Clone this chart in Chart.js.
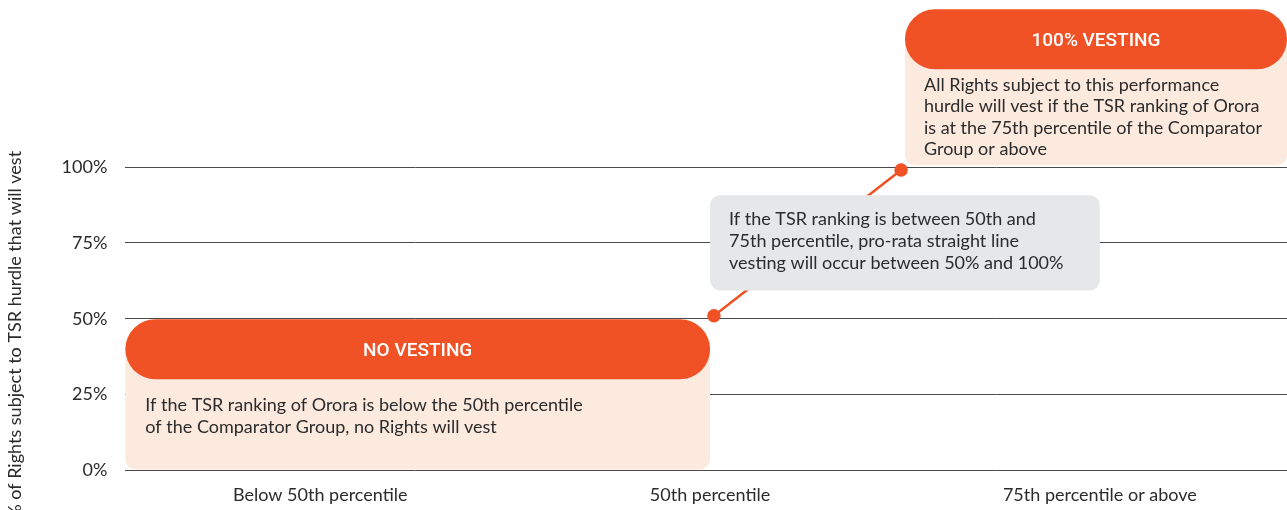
<!DOCTYPE html>
<html>
<head>
<meta charset="utf-8">
<script src="https://cdn.jsdelivr.net/npm/chart.js@4"></script>
<style>
html,body{margin:0;padding:0;background:#fff;}
#wrap{width:1287px;height:510px;}
</style>
</head>
<body>
<div id="wrap"><canvas id="c" width="1287" height="510"></canvas></div>
<script>
const categories = ["Below 50th percentile", "50th percentile", "75th percentile or above"];
const categoryPositions = [0.5, 1.5, 2.5];
const lineX = [1.51, 1.99];
const lineY = [51, 99];
const yTicks = [0, 25, 50, 75, 100];
const yTitle = "% of Rights subject to TSR hurdle that will vest";

const noVestTitle = "NO VESTING";
const noVestText = ["If the TSR ranking of Orora is below the 50th percentile", "of the Comparator Group, no Rights will vest"];
const fullVestTitle = "100% VESTING";
const fullVestText = ["All Rights subject to this performance", "hurdle will vest if the TSR ranking of Orora", "is at the 75th percentile of the Comparator", "Group or above"];
const midText = ["If the TSR ranking is between 50th and", "75th percentile, pro-rata straight line", "vesting will occur between 50% and 100%"];

const ORANGE = '#F05125';
const PEACH = '#FCEADF';
const GREY = '#E6E7E8';
const TXT = '#2b2b2b';
const BODY_FONT = '18px Lato';
const HEAD_FONT = '500 19px Roboto';

function rr(ctx, x, y, w, h, r) {
  const rad = typeof r === 'number' ? {tl:r,tr:r,br:r,bl:r} : r;
  ctx.beginPath();
  ctx.moveTo(x + rad.tl, y);
  ctx.lineTo(x + w - rad.tr, y);
  ctx.arcTo(x + w, y, x + w, y + rad.tr, rad.tr);
  ctx.lineTo(x + w, y + h - rad.br);
  ctx.arcTo(x + w, y + h, x + w - rad.br, y + h, rad.br);
  ctx.lineTo(x + rad.bl, y + h);
  ctx.arcTo(x, y + h, x, y + h - rad.bl, rad.bl);
  ctx.lineTo(x, y + rad.tl);
  ctx.arcTo(x, y, x + rad.tl, y, rad.tl);
  ctx.closePath();
}

function vestBox(ctx, xs, ys, b) {
  const l = xs.getPixelForValue(b.x0), r = xs.getPixelForValue(b.x1);
  const t = ys.getPixelForValue(b.yTop), bt = ys.getPixelForValue(b.yBottom);
  const w = r - l, h = bt - t;
  ctx.fillStyle = PEACH;
  rr(ctx, l, t + 20, w, h - 20, {tl:0,tr:0,br:10,bl:10});
  ctx.fill();
  ctx.fillStyle = ORANGE;
  rr(ctx, l, t, w, 60, 30);
  ctx.fill();
  ctx.fillStyle = '#fff';
  ctx.font = HEAD_FONT;
  ctx.textAlign = 'center';
  ctx.textBaseline = 'middle';
  ctx.fillText(b.title, l + w / 2, t + 32);
  ctx.fillStyle = TXT;
  ctx.font = BODY_FONT;
  ctx.textAlign = 'left';
  b.lines.forEach((s, i) => ctx.fillText(s, l + b.padX, t + 60 + b.firstY + i * b.lh));
}

const boxesPlugin = {
  id: 'boxes',
  beforeDatasetsDraw(chart) {
    const ctx = chart.ctx, xs = chart.scales.x, ys = chart.scales.y;
    ctx.save();
    vestBox(ctx, xs, ys, {x0:0, x1:1.5, yTop:49.8, yBottom:0.3, title:noVestTitle, lines:noVestText, padX:20, firstY:26, lh:21.5});
    vestBox(ctx, xs, ys, {x0:2.0, x1:2.98, yTop:152, yBottom:100.6, title:fullVestTitle, lines:fullVestText, padX:19, firstY:16, lh:21.3});
    ctx.restore();
  },
  afterDatasetsDraw(chart) {
    const ctx = chart.ctx, xs = chart.scales.x, ys = chart.scales.y;
    ctx.save();
    const l = xs.getPixelForValue(1.5), r = xs.getPixelForValue(2.5);
    const t = ys.getPixelForValue(90.7), b = ys.getPixelForValue(59.3);
    ctx.fillStyle = GREY;
    rr(ctx, l, t, r - l, b - t, 10);
    ctx.fill();
    ctx.fillStyle = TXT;
    ctx.font = BODY_FONT;
    ctx.textAlign = 'left';
    ctx.textBaseline = 'middle';
    midText.forEach((s, i) => ctx.fillText(s, l + 19, t + 24 + i * 22));
    ctx.restore();
  }
};

new Chart(document.getElementById('c'), {
  type: 'scatter',
  data: {
    datasets: [{
      data: lineX.map((x, i) => ({x: x, y: lineY[i]})),
      showLine: true,
      borderColor: ORANGE,
      backgroundColor: ORANGE,
      borderWidth: 2.5,
      pointRadius: 5.5,
      pointHoverRadius: 5.5,
      clip: false
    }]
  },
  options: {
    responsive: false,
    animation: false,
    devicePixelRatio: 1,
    layout: {autoPadding: false, padding: {top: 167, right: 0, bottom: -2, left: 4}},
    plugins: {legend: {display: false}, tooltip: {enabled: false}},
    scales: {
      x: {
        type: 'linear',
        min: 0,
        max: 2.98,
        grid: {display: false},
        border: {display: false},
        afterBuildTicks: (s) => { s.ticks = categoryPositions.map(v => ({value: v})); },
        ticks: {
          color: TXT,
          font: {family: 'Lato', size: 18},
          padding: 6,
          maxRotation: 0,
          autoSkip: false,
          callback: (v) => { const i = categoryPositions.indexOf(v); return i >= 0 ? categories[i] : ''; }
        }
      },
      y: {
        min: 0,
        max: 100,
        afterBuildTicks: (s) => { s.ticks = yTicks.map(v => ({value: v})); },
        grid: {color: '#4a4a4a', lineWidth: 1, drawTicks: false},
        border: {display: false},
        ticks: {
          color: TXT,
          font: {family: 'Lato', size: 18},
          padding: 18,
          callback: (v) => v + '%'
        },
        title: {
          display: true,
          text: yTitle + '       ',
          color: TXT,
          font: {family: 'Lato', size: 18},
          padding: {top: 0, bottom: 18}
        }
      }
    }
  },
  plugins: [boxesPlugin]
});
</script>
</body>
</html>
